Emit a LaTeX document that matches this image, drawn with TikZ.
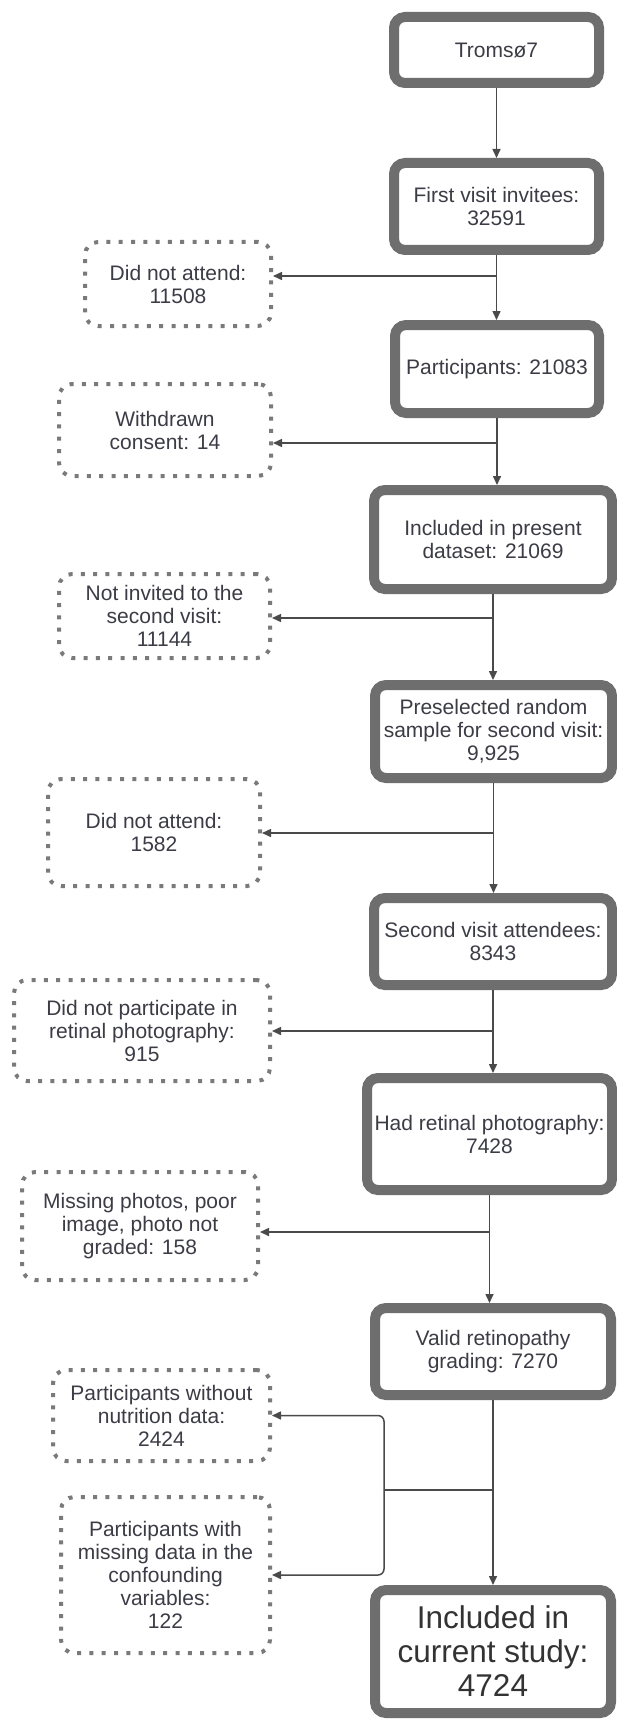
\documentclass[tikz,border=0pt]{standalone}
\usepackage{fontspec}
\setmainfont{Liberation Sans}
\usetikzlibrary{arrows.meta}
\definecolor{boxgray}{HTML}{6E6E6E}
\definecolor{dotgray}{HTML}{7A7A7A}
\definecolor{txtgray}{HTML}{3C3C46}
\definecolor{linegray}{HTML}{4A4A4A}
\tikzset{
  mainbox/.style={draw=boxgray, line width=10pt, rounded corners=11pt, fill=white,
    align=center, inner sep=0pt, outer sep=5pt, text=txtgray,
    font=\fontsize{21}{23}\selectfont},
  dotbox/.style={draw=dotgray, line width=4pt, dash pattern=on 4pt off 8.3pt,
    rounded corners=13pt, fill=white, align=center, inner sep=0pt, outer sep=2pt,
    text=txtgray, font=\fontsize{21}{23}\selectfont},
  conn/.style={draw=linegray, line width=1.5pt},
  arr/.style={conn, -{Triangle[length=9pt,width=8pt]}}
}
\begin{document}
\begin{tikzpicture}[x=1pt,y=-1pt]
\useasboundingbox[fill=white] (0,0) rectangle (617,1720);
% main column
\node[mainbox, minimum width=205pt, minimum height=66pt] (t7) at (496.5,50) {Tromsø7};
\node[mainbox, minimum width=205pt, minimum height=87pt] (fv) at (496.5,206.5) {First visit invitees:\\32591};
\node[mainbox, minimum width=204pt, minimum height=88pt] (part) at (497,369) {Participants: 21083};
\node[mainbox, minimum width=238pt, minimum height=99pt] (inc) at (493,539.5) {Included in present\\dataset: 21069};
\node[mainbox, minimum width=237pt, minimum height=93pt] (pre) at (493.5,731.5) {Preselected random\\sample for second visit:\\9,925};
\node[mainbox, minimum width=238pt, minimum height=87pt] (sec) at (493,941.5) {Second visit attendees:\\8343};
\node[mainbox, minimum width=245pt, minimum height=112pt] (had) at (489.5,1134) {Had retinal photography:\\7428};
\node[mainbox, minimum width=236pt, minimum height=87pt] (val) at (493,1351.5) {Valid retinopathy\\grading: 7270};
\node[mainbox, minimum width=236pt, minimum height=123pt, font=\fontsize{31.5}{34}\selectfont, text=black!80] (cur) at (493,1651.5) {Included in\\current study:\\4724};
% excluded boxes
\node[dotbox, minimum width=186pt, minimum height=84pt] (d1) at (178,284) {Did not attend:\\11508};
\node[dotbox, minimum width=212pt, minimum height=92pt] (d2) at (165,430) {Withdrawn\\consent: 14};
\node[dotbox, minimum width=211pt, minimum height=84pt] (d3) at (164.5,616) {Not invited to the\\second visit:\\11144};
\node[dotbox, minimum width=212pt, minimum height=107pt] (d4) at (154,832.5) {Did not attend:\\1582};
\node[dotbox, minimum width=256pt, minimum height=101pt] (d5) at (142,1030.5) {Did not participate in\\retinal photography:\\915};
\node[dotbox, minimum width=236pt, minimum height=108pt] (d6) at (140,1226) {Missing photos, poor\\image, photo not\\graded: 158};
\node[dotbox, minimum width=217pt, minimum height=91pt] (d7) at (161.5,1415.5) {Participants without\\nutrition data:\\2424};
\node[dotbox, minimum width=209pt, minimum height=156pt] (d8) at (165.5,1575) {Participants with\\missing data in the\\confounding\\variables:\\122};
% branch points
\coordinate (b1) at (496.5,276);
\coordinate (b2) at (497,443);
\coordinate (b3) at (493,618);
\coordinate (b4) at (493.5,833);
\coordinate (b5) at (493,1031);
\coordinate (b6) at (489.5,1232);
\coordinate (j) at (493,1490);
\coordinate (k) at (384,1490);
% main connectors
\draw[arr] (t7.south) -- (t7.south |- fv.north);
\draw[arr] (fv.south) -- (fv.south |- part.north);
\draw[arr] (part.south) -- (part.south |- inc.north);
\draw[arr] (inc.south) -- (inc.south |- pre.north);
\draw[arr] (pre.south) -- (pre.south |- sec.north);
\draw[arr] (sec.south) -- (sec.south |- had.north);
\draw[arr] (had.south) -- (had.south |- val.north);
\draw[arr] (val.south) -- (val.south |- cur.north);
% exclusions
\draw[arr] (b1) -- (d1.east |- b1);
\draw[arr] (b2) -- (d2.east |- b2);
\draw[arr] (b3) -- (d3.east |- b3);
\draw[arr] (b4) -- (d4.east |- b4);
\draw[arr] (b5) -- (d5.east |- b5);
\draw[arr] (b6) -- (d6.east |- b6);
\draw[conn] (j) -- (k);
\draw[arr, rounded corners=6pt] (k) |- (d7.east);
\draw[arr, rounded corners=6pt] (k) |- (d8.east);
\end{tikzpicture}
\end{document}
